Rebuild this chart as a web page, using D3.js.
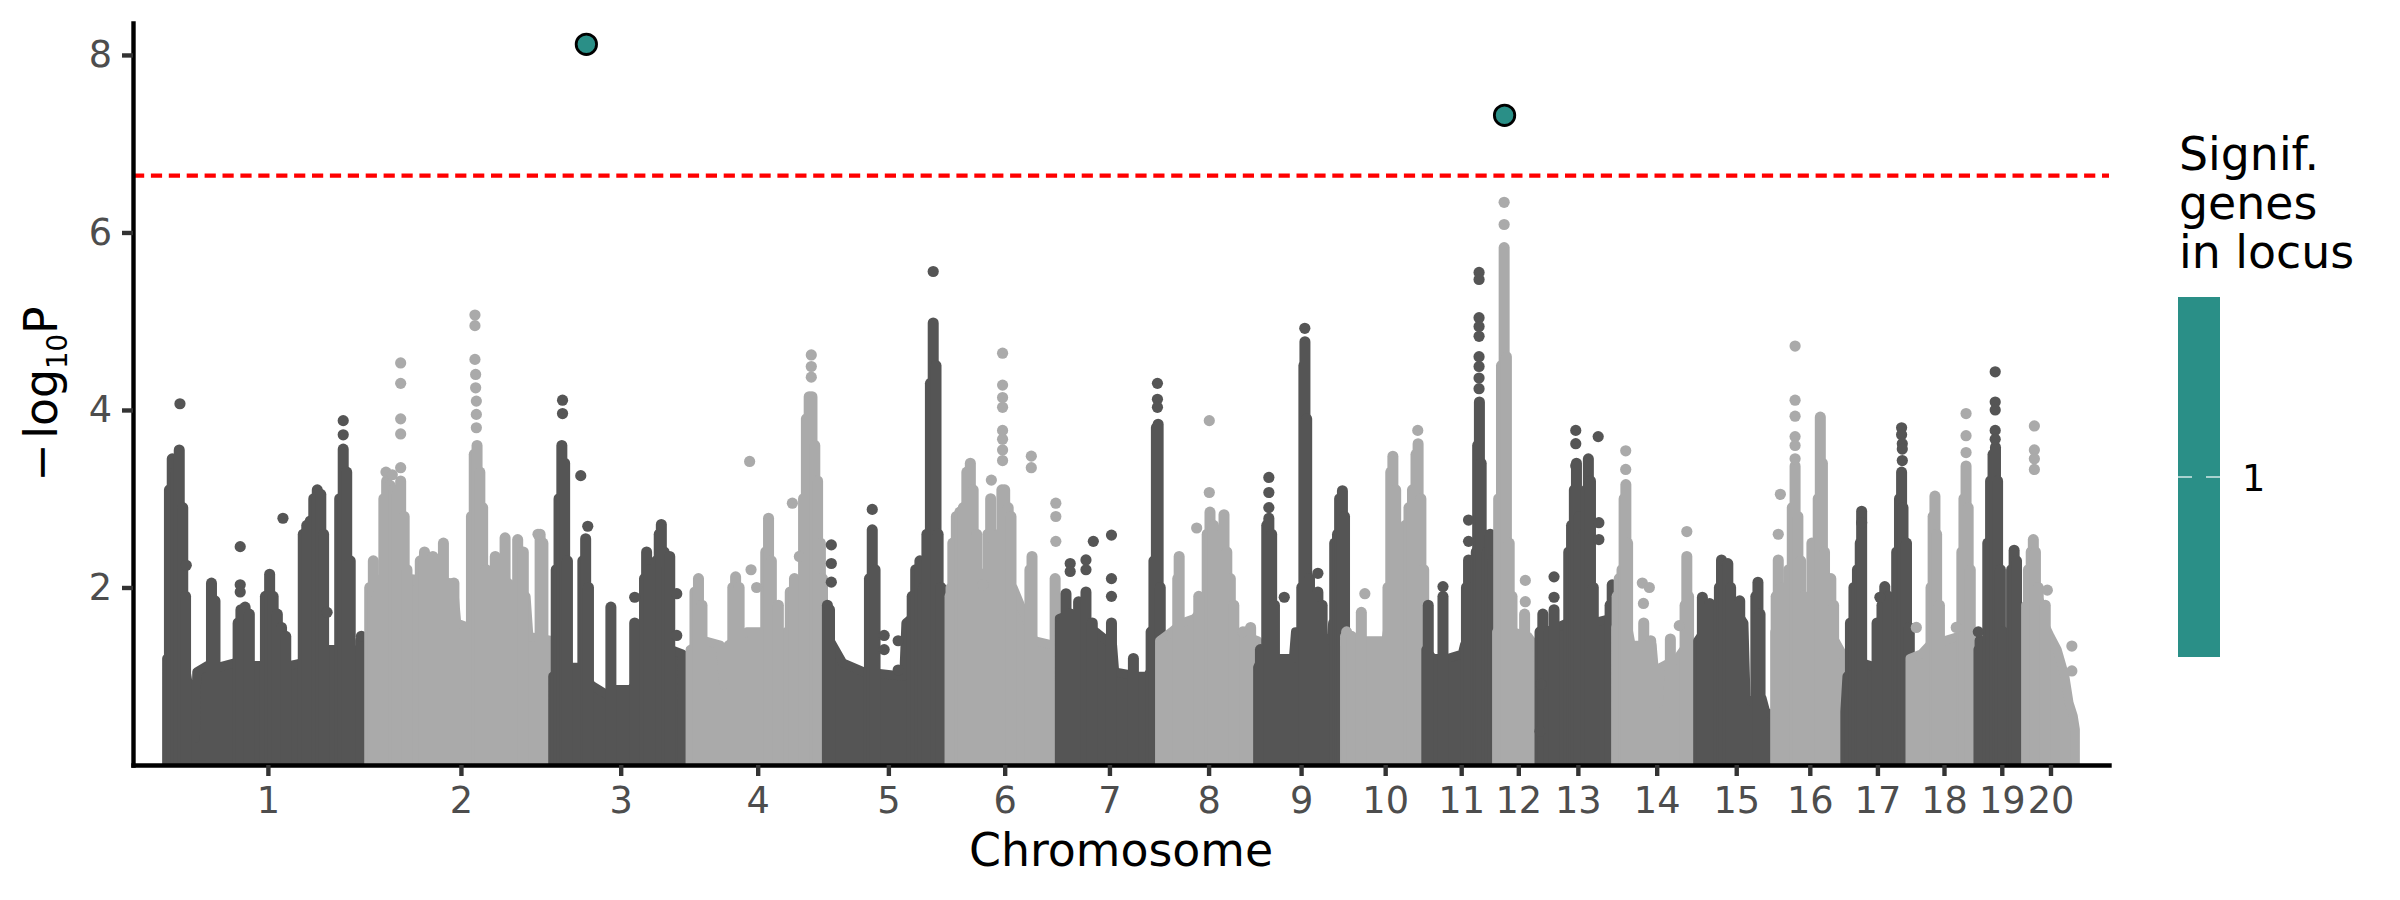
<!DOCTYPE html>
<html>
<head>
<meta charset="utf-8">
<script src="https://cdn.jsdelivr.net/npm/d3@7"></script>
<style>
  body { margin: 0; background: #fff; }
</style>
</head>
<body>
<script>
// Chromosomes and their lengths (Mb)
const chromosomes = ["1","2","3","4","5","6","7","8","9","10","11","12","13","14","15","16","17","18","19","20"];
const chromLengthMb = [289, 262, 194, 197, 176, 156, 143, 140, 124, 116, 101, 62, 108, 117, 110, 100, 93, 97, 68, 71];

const yTicks = [2, 4, 6, 8];
const threshold = 6.64;

// Upper edge of the dense cloud of SNPs, per chromosome: [position Mb, -log10 P]
const bodyLevels = [
  [[0,1.2],[25,1.2],[31,0.9],[35,0.3],[41,0.3],[43,1.05],[58,1.12],[73,1.1],[97,1.15],[124,1.12],[137,1.12],[175,1.12],[193,1.15],[226,1.3],[243,1.3],[265,1.2],[272,1.3],[284,1.2],[287,1.0]],
  [[0,2.0],[17,2.1],[55,2.0],[60,2.1],[120,2.05],[125,1.6],[142,1.55],[166,2.05],[191,2.1],[224,1.9],[228,1.45],[262,1.4]],
  [[0,1.0],[22,1.1],[40,1.1],[55,0.9],[76,0.8],[88,0.85],[111,0.85],[129,1.0],[144,1.2],[169,1.3],[185,1.25]],
  [[2,1.3],[23,1.4],[45,1.35],[50,0.9],[56,1.35],[83,1.5],[107,1.5],[119,1.4],[159,1.6],[193,1.5]],
  [[0,1.6],[5,1.4],[23,1.15],[53,1.05],[110,1.0],[113,1.6],[143,1.8],[162,1.7],[173,1.3],[176,1.0]],
  [[0,2.0],[39,2.2],[51,2.1],[90,2.0],[111,1.6],[120,1.4],[147,1.35],[156,1.2]],
  [[0,1.65],[16,1.7],[52,1.5],[76,1.35],[79,1.05],[112,1.0],[125,1.0],[143,1.2]],
  [[0,1.4],[17,1.5],[32,1.6],[50,1.65],[65,1.8],[80,1.8],[107,1.5],[140,1.4]],
  [[0,1.1],[9,1.25],[27,1.2],[51,1.2],[54,1.5],[78,1.5],[105,1.4],[107,1.6],[124,1.5]],
  [[0,1.45],[17,1.4],[59,1.4],[62,1.55],[80,1.5],[83,1.75],[114,1.6],[116,1.4]],
  [[0,1.3],[10,1.2],[31,1.2],[52,1.25],[55,1.35],[70,1.6],[95,1.6],[101,1.3]],
  [[0,1.5],[23,1.5],[45,1.45],[58,1.3],[62,1.0]],
  [[0,1.2],[5,1.3],[9,1.5],[39,1.6],[75,1.6],[100,1.65],[108,1.5]],
  [[0,1.55],[18.5,1.5],[22,1.35],[52,1.35],[57,0.9],[61,0.7],[64,1.1],[88,1.2],[97,1.3],[109,1.2],[117,1.0]],
  [[0,1.4],[13,1.55],[28,1.7],[49,1.8],[66,1.6],[69,0.75],[80,0.7],[92,0.75],[97,0.6],[110,0.55]],
  [[0,1.5],[14,1.6],[41,1.5],[56,1.45],[86,1.4],[100,1.2]],
  [[0,0.6],[3,1.0],[25,1.15],[45,1.1],[70,1.2],[93,1.25]],
  [[0,1.2],[16,1.25],[28,1.35],[49,1.4],[70,1.45],[88,1.4],[97,1.2]],
  [[0,1.3],[10,1.4],[37,1.3],[64,1.3],[68,1.1]],
  [[0,1.8],[20,1.85],[23,1.65],[35,1.45],[45,1.3],[56,1.0],[62,0.7],[68,0.55],[71,0.4]]
];

// Dense columns of SNPs rising above the cloud: [chromosome, position Mb, top -log10 P]
const spikes = [
  [1,4,3.1],[1,8,3.45],[1,13,3.3],[1,18,3.55],[1,23,2.9],[1,27,1.9],[1,64,2.05],[1,69,1.85],[1,102,1.6],[1,106,1.75],[1,112,1.78],[1,118,1.7],[1,141,1.9],[1,147,2.15],[1,152,1.9],[1,158,1.7],[1,164,1.55],[1,170,1.45],[1,195,2.6],[1,200,2.7],[1,205,2.75],[1,210,3.0],[1,215,3.1],[1,220,3.05],[1,224,2.6],[1,247,3.0],[1,252,3.56],[1,257,3.3],[1,262,2.3],[1,277,1.4],
  [2,1,2.0],[2,6,2.3],[2,11,1.9],[2,21,3.0],[2,25,3.2],[2,30,3.15],[2,35,3.1],[2,40,3.05],[2,45,3.2],[2,50,2.8],[2,54,2.2],[2,73,2.3],[2,79,2.4],[2,91,2.35],[2,106,2.5],[2,121,2.05],[2,146,2.8],[2,150,3.5],[2,154,3.6],[2,158,3.3],[2,162,2.9],[2,167,2.2],[2,180,2.35],[2,194,2.56],[2,212,2.54],[2,220,2.4],[2,244,2.6],[2,248,2.5],
  [3,5,2.2],[3,9,3.0],[3,13,3.6],[3,17,3.4],[3,21,2.3],[3,43,2.3],[3,47,2.55],[3,51,2.0],[3,83,1.78],[3,117,1.6],[3,131,2.1],[3,134,2.4],[3,138,2.2],[3,148,2.3],[3,152,2.6],[3,155,2.71],[3,159,2.4],[3,163,2.2],[3,167,2.35],
  [4,9,1.95],[4,14,2.1],[4,19,1.8],[4,63,2.0],[4,67,2.12],[4,72,2.0],[4,110,2.4],[4,114,2.78],[4,118,2.3],[4,128,1.8],[4,145,1.95],[4,151,2.1],[4,164,3.0],[4,168,3.9],[4,172,4.15],[4,176,4.15],[4,180,3.6],[4,184,3.2],[4,188,2.5],[4,191,2.1],
  [5,1,1.8],[5,4,1.75],[5,61,2.1],[5,65,2.65],[5,69,2.2],[5,122,1.9],[5,127,2.2],[5,133,2.3],[5,138,2.0],[5,143,2.6],[5,148,4.3],[5,152,4.98],[5,156,4.5],[5,159,2.6],[5,163,2.0],
  [6,0,1.9],[6,4,2.5],[6,9,2.8],[6,14,2.85],[6,19,2.9],[6,24,3.3],[6,29,3.4],[6,33,3.1],[6,38,2.6],[6,54,2.6],[6,58,3.0],[6,63,2.5],[6,70,2.6],[6,74,3.1],[6,78,3.1],[6,83,2.9],[6,87,2.8],[6,114,2.2],[6,117,2.35],[6,150,2.1],
  [7,3,1.6],[7,9.5,1.93],[7,16,1.7],[7,27.5,1.84],[7,38,1.95],[7,47,1.6],[7,74.4,1.6],[7,105.7,1.2],[7,131,1.5],[7,135,2.3],[7,138.5,3.8],[7,141,3.84],[7,144,2.0],
  [8,3,1.4],[8,26,2.1],[8,28,2.35],[8,50,1.6],[8,56,1.9],[8,68,2.6],[8,72,2.85],[8,77,2.7],[8,89,2.6],[8,92,2.82],[8,96,2.4],[8,101,2.1],[8,106,1.8],[8,124,1.5],[8,130,1.55],
  [9,4,1.3],[9,13,2.7],[9,16,2.78],[9,20,2.6],[9,24,1.8],[9,63,2.0],[9,66,4.5],[9,67.5,4.77],[9,70,3.9],[9,74,2.1],[9,86,1.95],[9,92,1.8],[9,110,2.5],[9,114,2.6],[9,117,3.0],[9,121,3.09],[9,124,2.8],
  [10,3,1.5],[10,10,1.45],[10,24,1.72],[10,62,2.0],[10,66,3.3],[10,69,3.48],[10,73,3.1],[10,87,2.7],[10,92,2.9],[10,97,3.1],[10,102,3.5],[10,105,3.62],[10,109,3.0],[10,113,2.2],
  [11,3.5,1.8],[11,24.5,1.9],[11,58,2.0],[11,61,2.31],[11,64,2.0],[11,72,2.4],[11,74,3.6],[11,76.5,4.09],[11,79,3.4],[11,82,2.6],[11,88,2.4],[11,92,2.6],[11,96,2.3],
  [12,3,3.0],[12,7,4.5],[12,10.8,5.83],[12,14,4.6],[12,18,2.5],[12,22,1.9],[12,40,1.7],
  [13,0,1.5],[13,4,1.7],[13,13,1.5],[13,20,1.75],[13,41,2.4],[13,45,2.7],[13,49,3.1],[13,52,3.4],[13,56,2.8],[13,62,2.6],[13,66,3.1],[13,69,3.45],[13,72,3.2],[13,76,2.0],[13,100,1.8],[13,103,2.03],
  [14,2,1.9],[14,5,2.1],[14,9,2.2],[14,12,3.0],[14,14.5,3.16],[14,17,2.5],[14,40,1.6],[14,50,1.4],[14,78,1.42],[14,99,1.8],[14,101.5,2.35],[14,104,1.9],
  [15,6.7,1.89],[15,17,1.82],[15,31,2.0],[15,34,2.31],[15,38,2.2],[15,43,2.27],[15,47,2.0],[15,60,1.85],[15,83,1.9],[15,86,2.06],[15,89,1.7],
  [16,2,1.9],[16,5,2.31],[16,9,2.0],[16,20,2.2],[16,25,2.9],[16,29,3.37],[16,33,2.8],[16,37,2.3],[16,41,1.9],[16,53,2.5],[16,62,3.0],[16,65,3.92],[16,68,3.4],[16,71,2.4],[16,78,1.8],[16,80,2.1],[16,84,1.8],
  [17,8,1.6],[17,13,2.0],[17,18,2.2],[17,22,2.5],[17,24,2.86],[17,46,1.6],[17,53,1.8],[17,57,2.01],[17,62,1.9],[17,74,2.4],[17,78,3.0],[17,81,3.3],[17,83,2.9],[17,88,2.5],[17,92,1.55],
  [18,30,2.0],[18,33,2.8],[18,35.6,3.03],[18,38,2.6],[18,42,1.8],[18,74,2.4],[18,77,3.0],[18,80,3.37],[18,83,2.9],[18,86,2.2],
  [19,3,1.4],[19,14,2.5],[19,18,3.2],[19,21.5,3.5],[19,25,3.58],[19,28,3.2],[19,32,2.2],[19,36,1.5],[19,48,2.2],[19,51.6,2.42],[19,55,2.3],
  [20,4,2.2],[20,8,2.4],[20,11,2.54],[20,14,2.4],[20,18,2.0],[20,28,1.8]
];

// Single SNPs standing apart: [chromosome, position Mb, -log10 P]
const loosePoints = [
  [1,19,4.07],[1,28,2.25],[1,105,2.46],[1,105,2.03],[1,105,1.95],[1,166,2.78],[1,229,1.72],[1,252,3.88],[1,252,3.72],[1,278,1.45],
  [2,24,3.3],[2,33,3.27],[2,45,3.9],[2,45,3.73],[2,45,4.3],[2,45,4.53],[2,45,3.35],[2,151,5.07],[2,151,4.95],[2,151,4.57],[2,152,4.4],[2,152,4.25],[2,153,4.1],[2,153,3.95],[2,153,3.8],[2,241,2.6],
  [3,14,4.11],[3,14,3.96],[3,40,3.26],[3,50,2.69],[3,117,1.89],[3,177,1.93],[3,177,1.46],
  [4,87,3.42],[4,89,2.2],[4,97,2.0],[4,148,2.95],[4,158,2.35],[4,175,4.62],[4,175,4.49],[4,175,4.37],
  [5,6.6,2.48],[5,6.6,2.27],[5,6.6,2.06],[5,65,2.88],[5,152,5.56],[5,82,1.46],[5,82,1.3],[5,102,1.4],[5,102,1.07],
  [6,75,4.64],[6,75,4.28],[6,75,4.14],[6,75,4.03],[6,75,3.77],[6,75,3.67],[6,75,3.55],[6,75,3.43],[6,59,3.21],[6,116,3.48],[6,116,3.35],[6,151,2.95],[6,151,2.8],[6,151,2.52],[6,47,2.03],
  [7,15.5,2.27],[7,15.5,2.18],[7,38,2.31],[7,38,2.2],[7,48.5,2.52],[7,74.4,2.59],[7,74.4,2.1],[7,74.4,1.9],[7,140,4.3],[7,140,4.12],[7,140,4.03],
  [8,53,2.67],[8,71,3.88],[8,71,3.07],[8,119,1.5],
  [9,16,3.24],[9,16,3.07],[9,16,2.9],[9,38,1.89],[9,67.3,4.92],[9,86,2.16],
  [10,29,1.93],[10,104.5,3.77],
  [11,24.5,2.01],[11,61,2.76],[11,61,2.52],[11,76,5.55],[11,76,5.47],[11,76,5.04],[11,76,4.94],[11,76,4.83],[11,76,4.6],[11,76,4.49],[11,76,4.36],[11,76,4.24],
  [12,10.8,6.34],[12,10.8,6.09],[12,41,2.08],[12,41,1.84],
  [13,0,0.38],[13,1.5,0.91],[13,20,2.12],[13,20,1.89],[13,51,3.77],[13,51,3.62],[13,51,3.37],[13,83,3.7],[13,84,2.73],[13,84,2.54],
  [14,14.3,3.54],[14,14.3,3.33],[14,38,2.05],[14,39.6,1.82],[14,48,2.0],[14,90.7,1.57],[14,101.5,2.63],
  [16,5,2.6],[16,8,3.05],[16,29,4.72],[16,29,4.11],[16,29,3.93],[16,29,3.7],[16,29,3.6],[16,29,3.45],
  [17,24,2.73],[17,50,1.89],[17,81,3.8],[17,81,3.72],[17,82,3.62],[17,82,3.56],[17,82,3.43],
  [18,9,1.55],[18,80,3.96],[18,80,3.71],[18,80,3.52],[18,66,1.55],
  [19,0.5,1.5],[19,24.6,4.43],[19,24.6,4.09],[19,24.6,4.0],[19,24.6,3.77],[19,24.6,3.67],
  [20,12.5,3.82],[20,12.5,3.55],[20,12.5,3.45],[20,12.5,3.33],[20,31,1.97],[20,66,1.34],[20,66,1.06]
];

// Genome-wide significant SNPs: [chromosome, position Mb, -log10 P, signif. genes in locus]
const signifHits = [[3, 48, 8.12, 1], [12, 11.4, 7.32, 1]];
const legendValues = [1];

// Chart dimensions
const width = 2400;
const height = 900;
const marginTop = 23;
const marginRight = 291;
const marginBottom = 135;
const marginLeft = 133;
const font = "'DejaVu Sans', 'Liberation Sans', sans-serif";
const chromColours = ["#555555", "#aaaaaa"];
const hitColour = "#2a8f87";

// Chromosome start offsets on the concatenated genome
const starts = [0, ...d3.cumsum(chromLengthMb)];
const genomeLength = starts[starts.length - 1];
const pad = 48;

const x = d3.scaleLinear()
  .domain([-pad, genomeLength + pad])
  .range([marginLeft, width - marginRight]);

const y = d3.scaleLinear()
  .domain([0, 8.36])
  .range([height - marginBottom, marginTop]);

const svg = d3.select("body")
  .append("svg")
  .attr("width", width)
  .attr("height", height)
  .attr("viewBox", [0, 0, width, height])
  .style("font-family", font);

svg.append("clipPath")
  .attr("id", "panel")
  .append("rect")
  .attr("x", marginLeft)
  .attr("y", 0)
  .attr("width", width - marginLeft - marginRight)
  .attr("height", height - marginBottom);

const plot = svg.append("g").attr("clip-path", "url(#panel)");

const area = d3.area()
  .x(d => x(d[0]))
  .y0(y(0))
  .y1(d => y(d[1]));

// Draw the points chromosome by chromosome, alternating grey shades
chromosomes.forEach((name, i) => {
  const off = starts[i];
  const col = chromColours[i % 2];
  const g = plot.append("g");

  g.append("path")
    .datum(bodyLevels[i].map(d => [off + d[0], d[1]]))
    .attr("d", area)
    .attr("fill", col)
    .attr("stroke", col)
    .attr("stroke-width", 9)
    .attr("stroke-linejoin", "round");

  g.selectAll("line")
    .data(spikes.filter(d => d[0] === i + 1))
    .join("line")
    .attr("x1", d => x(off + d[1]))
    .attr("x2", d => x(off + d[1]))
    .attr("y1", y(0))
    .attr("y2", d => y(d[2]))
    .attr("stroke", col)
    .attr("stroke-width", 11)
    .attr("stroke-linecap", "round");

  g.selectAll("circle")
    .data(loosePoints.filter(d => d[0] === i + 1))
    .join("circle")
    .attr("cx", d => x(off + d[1]))
    .attr("cy", d => y(d[2]))
    .attr("r", 5.6)
    .attr("fill", col);
});

// Significance threshold
svg.append("line")
  .attr("x1", marginLeft)
  .attr("x2", width - marginRight)
  .attr("y1", y(threshold))
  .attr("y2", y(threshold))
  .attr("stroke", "red")
  .attr("stroke-width", 4.4)
  .attr("stroke-dasharray", "11.2,6.7");

// Significant hits
svg.append("g")
  .selectAll("circle")
  .data(signifHits)
  .join("circle")
  .attr("cx", d => x(starts[d[0] - 1] + d[1]))
  .attr("cy", d => y(d[2]))
  .attr("r", 10.2)
  .attr("fill", hitColour)
  .attr("stroke", "black")
  .attr("stroke-width", 2.8);

// X axis with chromosome labels at the chromosome centres
const centres = chromLengthMb.map((len, i) => starts[i] + len / 2);
const xAxis = svg.append("g")
  .attr("transform", `translate(0,${height - marginBottom})`)
  .call(d3.axisBottom(x)
    .tickValues(centres)
    .tickFormat((d, i) => chromosomes[i])
    .tickSize(11)
    .tickSizeOuter(0)
    .tickPadding(11));

xAxis.select(".domain").attr("stroke", "black").attr("stroke-width", 4.4).attr("stroke-linecap", "square");
xAxis.selectAll(".tick line").attr("stroke", "#333333").attr("stroke-width", 4.4);
xAxis.selectAll(".tick text")
  .attr("fill", "#4d4d4d")
  .style("font-size", "36.7px")
  .style("font-family", font);

// Y axis
const yAxis = svg.append("g")
  .attr("transform", `translate(${marginLeft},0)`)
  .call(d3.axisLeft(y)
    .tickValues(yTicks)
    .tickSize(11)
    .tickSizeOuter(0)
    .tickPadding(10));

yAxis.select(".domain").attr("stroke", "black").attr("stroke-width", 4.4).attr("stroke-linecap", "square");
yAxis.selectAll(".tick line").attr("stroke", "#333333").attr("stroke-width", 4.4);
yAxis.selectAll(".tick text")
  .attr("fill", "#4d4d4d")
  .style("font-size", "36.7px")
  .style("font-family", font);

// Axis titles
svg.append("text")
  .attr("x", (marginLeft + width - marginRight) / 2)
  .attr("y", 866)
  .attr("text-anchor", "middle")
  .attr("fill", "black")
  .style("font-size", "45.8px")
  .text("Chromosome");

const yTitle = svg.append("text")
  .attr("transform", `translate(57,${(marginTop + height - marginBottom) / 2}) rotate(-90)`)
  .attr("text-anchor", "middle")
  .attr("fill", "black")
  .style("font-size", "45.8px");
yTitle.append("tspan").text("\u2212\u200Alog");
yTitle.append("tspan").attr("dy", 10).style("font-size", "27.5px").text("10");
yTitle.append("tspan").attr("dy", -10).text("P");

// Legend: colour bar for number of significant genes in locus
const legend = svg.append("g");
legend.append("text")
  .attr("x", 2179)
  .attr("fill", "black")
  .style("font-size", "45.8px")
  .selectAll("tspan")
  .data(["Signif.", "genes", "in locus"])
  .join("tspan")
  .attr("x", 2179)
  .attr("y", (d, i) => 170 + i * 49)
  .text(d => d);

const barTop = 297, barBottom = 657, barLeft = 2178, barWidth = 42;
const legendScale = d3.scalePoint().domain(legendValues).range([barTop, barBottom]).padding(0.5);

legend.append("rect")
  .attr("x", barLeft)
  .attr("y", barTop)
  .attr("width", barWidth)
  .attr("height", barBottom - barTop)
  .attr("fill", hitColour);

legendValues.forEach(v => {
  const ly = legendScale(v);
  legend.append("line")
    .attr("x1", barLeft).attr("x2", barLeft + 14)
    .attr("y1", ly).attr("y2", ly)
    .attr("stroke", "white").attr("stroke-width", 1.2);
  legend.append("line")
    .attr("x1", barLeft + barWidth - 14).attr("x2", barLeft + barWidth)
    .attr("y1", ly).attr("y2", ly)
    .attr("stroke", "white").attr("stroke-width", 1.2);
  legend.append("text")
    .attr("x", 2242)
    .attr("y", ly + 14)
    .attr("fill", "black")
    .style("font-size", "36.7px")
    .text(v);
});
</script>
</body>
</html>
